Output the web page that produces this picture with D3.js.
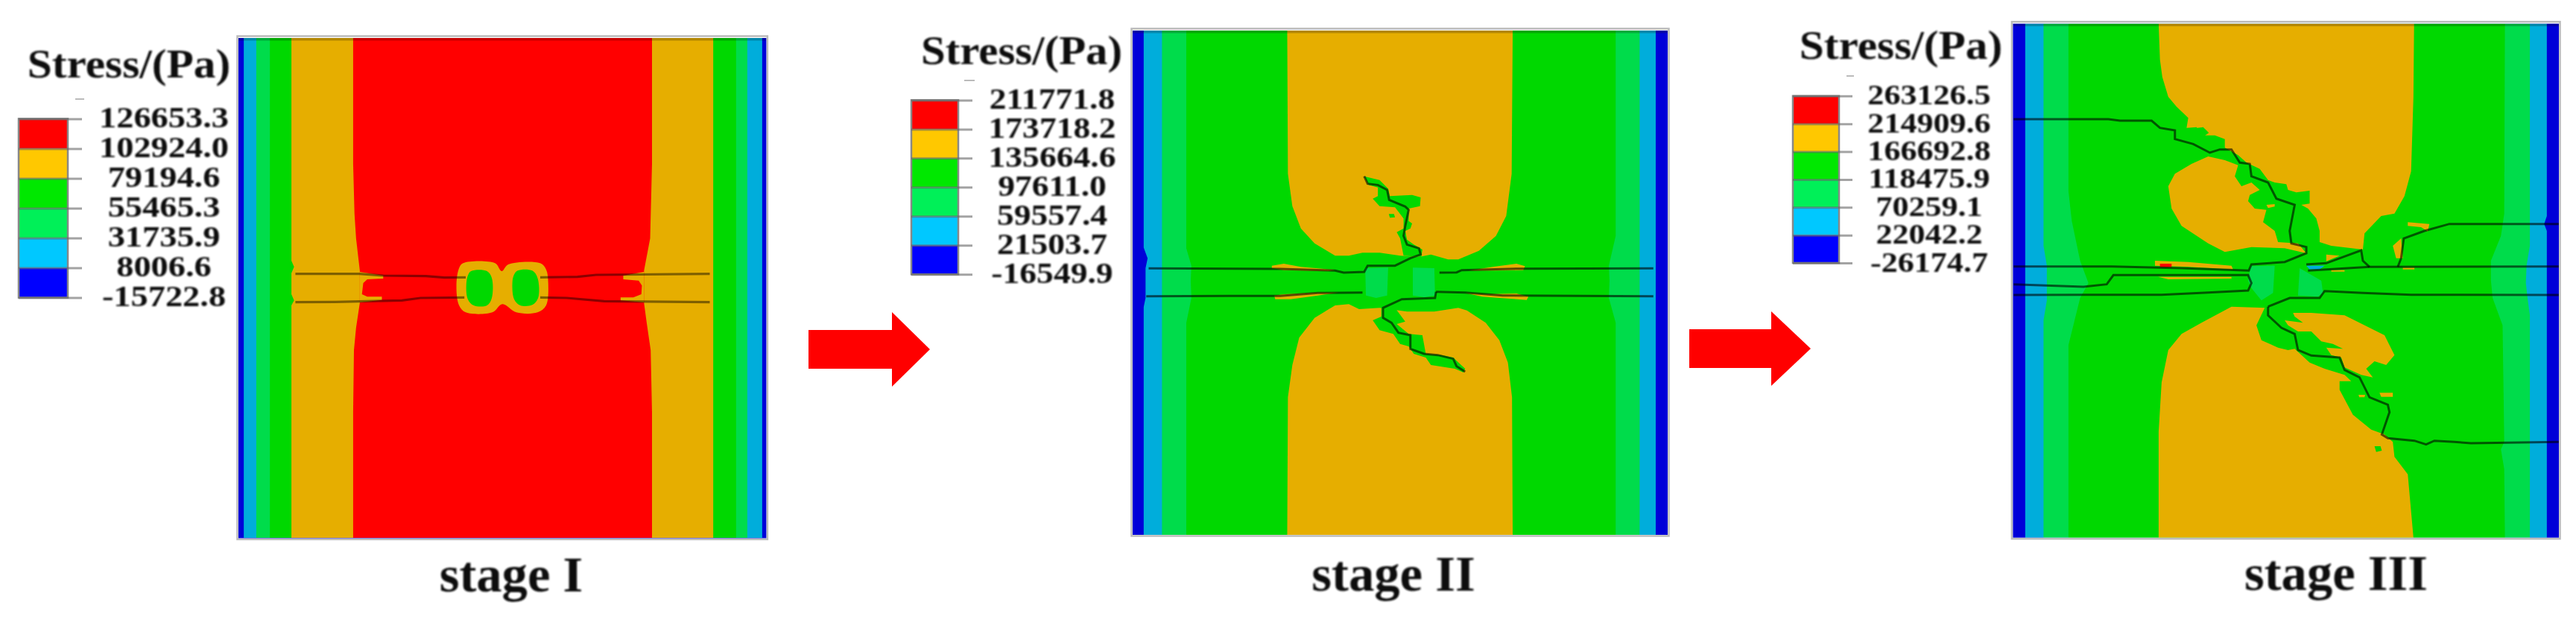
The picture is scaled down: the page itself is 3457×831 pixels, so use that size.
<!DOCTYPE html>
<html>
<head>
<meta charset="utf-8">
<title>Stress stages</title>
<script src="https://cdn.jsdelivr.net/npm/d3@7"></script>
<style>
html, body { margin:0; padding:0; background:#fff; }
svg { display:block; }
text { font-family:"Liberation Serif", serif; font-weight:bold; fill:#111; }
</style>
</head>
<body>
<div id="chart-area"></div>
<script>
// colours of the contour bands and of the legend bands, low to high
var bandColors = ["#0000d8", "#00addb", "#00dc4c", "#00d800", "#e6ae00", "#ff0000"];
var legendColors = ["#0000ff", "#00c8ff", "#00f058", "#00e800", "#ffc800", "#ff0000"];

// legend tick labels
var ticksI = ["-15722.8", "8006.6", "31735.9", "55465.3", "79194.6", "102924.0", "126653.3"];
var ticksII = ["-16549.9", "21503.7", "59557.4", "97611.0", "135664.6", "173718.2", "211771.8"];
var ticksIII = ["-26174.7", "22042.2", "70259.1", "118475.9", "166692.8", "214909.6", "263126.5"];

var stageNames = ["stage I", "stage II", "stage III"];

var s1Lightblue = [[-64,-807],[1884,-807],[1884,1206],[-64,1206]];
var s1Green2 = [[-17,-807],[1828,-807],[1828,1206],[-17,1206]];
var s1Green = [[34,-807],[1786,-807],[1786,1206],[34,1206]];
var s1Orange = [[115,-807],[115,90],[125,115],[115,140],[115,225],[125,250],[115,270],[115,1206],[1700,1206],[1700,-807]];
var s1Red = [[347,-807],[347,-300],[352,-100],[358,0],[372,130],[372,260],[358,360],[350,450],[347,700],[347,1206],
             [1470,1206],[1470,700],[1465,450],[1450,340],[1440,260],[1440,130],[1463,0],[1470,-300],[1470,-807]];
var s1SpurL = [[372,135],[460,150],[460,162],[400,165],[385,180],[380,225],[400,235],[455,235],[455,248],[372,258]];
var s1SpurR = [[1440,135],[1362,150],[1362,165],[1420,170],[1432,190],[1430,225],[1400,238],[1352,238],[1352,250],[1440,258]];
var s1Blob = [[760,100],[880,100],[905,132],[930,105],[1050,100],[1072,125],[1080,180],[1072,270],[1040,298],[960,298],
              [908,265],[870,298],[770,298],[745,270],[735,190],[745,120]];
var s1OvalL = [[790,132],[850,132],[868,160],[868,240],[850,270],[800,270],[778,245],[772,190],[778,150]];
var s1OvalR = [[965,130],[1020,130],[1040,160],[1042,240],[1020,268],[975,270],[952,245],[945,190],[950,150]];
var s1Cracks = [
  [[130,143],[370,143],[460,150],[620,152],[690,158],[770,157]],
  [[130,257],[280,256],[530,250],[600,240],[765,238]],
  [[1050,157],[1190,155],[1260,147],[1687,143]],
  [[1050,238],[1150,240],[1290,253],[1687,257]]
];

// ---- stage II contours, 0-1568 / 0-1020 grid
var s2Blue = [[10,-477],[10,395],[22,440],[16,480],[16,600],[10,640],[10,1554],[-22,1554],[-22,-477]];
var s2Lightblue = [[10,-477],[1507,-477],[1507,1554],[10,1554]];
var s2Green2 = [[64,-477],[1460,-477],[1460,1554],[64,1554]];
var s2Green = [[135,-477],[135,400],[150,470],[148,530],[150,600],[135,700],[135,1554],
                [1390,1554],[1390,700],[1370,600],[1372,530],[1370,470],[1390,350],[1390,-477]];
var s2OrangeTop = [[430,-477],[432,100],[445,230],[470,320],[510,380],[570,430],[610,430],[650,418],[700,418],[760,430],
                   [815,435],[850,425],[900,445],[930,445],[990,410],[1040,350],[1070,270],[1086,100],[1089,-477]];
var s2OrangeLow = [[430,1554],[432,1000],[445,870],[465,760],[510,680],[570,630],[610,625],[640,645],[700,640],[780,655],
                   [860,655],[930,640],[955,650],[1010,700],[1050,770],[1075,860],[1087,1000],[1089,1554]];
var s2CrackBlobTop = [[655,110],[700,125],[725,160],[730,190],[795,185],[820,195],[818,230],[785,240],[785,290],[795,300],
                      [790,320],[775,330],[780,365],[800,385],[825,405],[822,435],[770,430],[760,360],[750,335],[770,320],
                      [770,280],[745,235],[700,230],[680,200],[695,190],[695,155],[668,145]];
var s2CrackBlobLow = [[705,640],[745,640],[775,695],[750,705],[785,745],[825,750],[835,825],[880,830],[915,840],[950,885],
                      [945,900],[920,885],[850,870],[835,840],[800,825],[785,795],[760,785],[740,745],[700,730],[680,690],[705,675]];
var s2Dot = [[727,262],[742,262],[745,275],[730,277]];
var s2CentreL = [[658,480],[725,478],[722,590],[690,600],[660,590]];
var s2CentreR = [[797,478],[860,480],[862,590],[830,597],[797,590]];
var s2Slivers = [
  [[385,470],[420,462],[470,475],[570,487],[550,492],[420,488],[385,480]],
  [[392,590],[420,585],[520,578],[580,578],[520,590],[440,605],[395,605]],
  [[960,490],[1030,475],[1100,462],[1125,472],[1120,488],[1040,490]],
  [[950,580],[1010,585],[1100,582],[1135,595],[1130,608],[1050,600],[1000,595]]
];
var s2Cracks = [
  [[655,110],[665,140],[695,145],[722,165],[728,205],[775,232],[785,245],[775,310],[770,350],[780,385],[815,400],[820,425],
   [790,440],[745,470],[665,470],[655,495],[595,498],[570,490],[410,483],[25,481]],
  [[875,498],[925,497],[940,488],[1100,482],[1500,481]],
  [[18,593],[260,592],[410,592],[520,580],[650,578]],
  [[865,575],[950,578],[1060,590],[1500,593]],
  [[865,575],[862,600],[765,605],[710,640],[710,680],[735,700],[755,740],[790,750],[790,805],[830,825],[870,830],[915,845],[925,875],[950,897]]
];

// ---- stage III contours, upper grid 0-1568 / 0-900, lower grid the same size lower down
var s3Lightblue = [[40,-295],[1608,-295],[1608,480],[1600,512],[1608,540],[1608,1775],[40,1775]];
var s3Green2 = [[95,-295],[95,600],[105,680],[105,820],[95,900],[95,1775],
                [1557,1775],[1557,880],[1550,810],[1545,750],[1547,680],[1557,600],[1557,-295]];
var s3Green = [[170,-295],[170,380],[180,500],[205,660],[230,750],[205,810],[170,1000],[170,1775],
               [1482,1775],[1480,1500],[1470,1420],[1480,1390],[1475,920],[1445,810],[1440,740],[1440,660],[1470,560],[1480,470],[1482,-295]];
var s3OrangeTop = [[441,-295],[445,-150],[452,-80],[470,0],[495,40],[530,85],[525,125],[555,122],[575,155],[610,155],[640,170],
                   [640,205],[680,235],[705,265],[745,290],[770,335],[790,345],[825,352],[830,375],[855,385],[895,378],[895,430],
                   [870,435],[890,450],[915,490],[925,540],[925,585],[960,600],[1055,615],[1060,550],[1110,480],[1150,470],
                   [1180,400],[1200,300],[1207,0],[1209,-295]];
var s3LobeTop = [[590,240],[640,255],[680,275],[670,320],[690,360],[720,345],[745,375],[715,395],[710,420],[730,450],[765,455],
                 [755,505],[790,540],[800,585],[860,590],[885,630],[820,610],[720,605],[640,625],[590,590],[510,520],[480,450],[470,360],[490,310],[540,270]];
var s3IslandTop = [[557,125],[575,122],[592,145],[578,158],[560,145]];
var s3DotsTop = [
  [[765,435],[790,432],[790,442],[770,448]],
  [[1190,505],[1255,512],[1250,542],[1230,525],[1190,520]],
  [[1145,600],[1170,570],[1175,650],[1155,650]],
  [[430,660],[530,665],[660,680],[665,695],[530,685],[430,680]],
  [[440,725],[660,725],[660,732],[470,735]],
  [[945,635],[985,640],[945,662]],
  [[960,698],[1000,698],[1000,704],[960,704]],
  [[1175,688],[1210,688],[1210,695],[1175,695]]
];
var s3RedSpot = [[445,672],[480,672],[480,686],[445,686]];
var s3BlueSpot = [[885,680],[940,680],[925,695],[895,695]];
var s3CentreL = [[718,682],[790,680],[785,790],[750,820],[720,770],[710,740]];
var s3CentreR = [[865,690],[930,740],[935,790],[920,805],[860,800]];
var s3CracksTop = [
  [[5,90],[290,90],[325,96],[420,96],[445,125],[490,135],[490,170],[545,190],[595,225],[625,212],[660,212],[685,265],[715,270],
   [720,320],[770,345],[795,410],[850,435],[835,540],[840,590],[885,605],[885,630],[820,665],[720,675],[712,700],[620,695],[510,690],[300,683],[5,683]],
  [[5,755],[215,765],[285,755],[305,718],[710,718],[720,750],[710,780],[590,788],[450,797],[5,798]],
  [[890,700],[1075,685],[1644,683]],
  [[885,675],[945,670],[1050,618],[1055,660],[1075,685]],
  [[1160,685],[1170,650],[1178,570],[1240,540],[1315,512],[1644,512]],
  [[770,845],[835,810],[925,810],[940,782],[1055,790],[1200,797],[1644,798]]
];
// lower half, second grid
var s3OrangeLow = [[441,1025],[441,600],[450,400],[470,270],[510,205],[570,160],[660,95],[760,100],[735,170],[750,230],[800,260],
                   [830,270],[850,265],[895,320],[940,345],[1000,370],[1020,395],[985,395],[985,430],[1025,530],[1080,590],[1120,610],
                   [1145,640],[1150,700],[1190,770],[1207,1025]];
var s3LobeLow = [[845,120],[900,120],[1000,130],[1120,210],[1150,290],[1125,330],[1090,315],[1065,345],[1085,380],[1050,370],
                 [1000,340],[990,300],[960,290],[945,260],[995,265],[965,245],[930,235],[900,195],[860,195],[830,170],[820,150],[875,160],[850,135]];
var s3IslandLow = [[1090,657],[1108,657],[1112,675],[1095,680]];
var s3SpotsLow = [
  [[1105,442],[1145,442],[1145,458],[1110,458]],
  [[1042,450],[1062,450],[1060,460],[1044,460]]
];
var s3CrackLow = [[770,95],[770,130],[810,180],[850,205],[860,270],[900,292],[985,300],[1000,350],[1045,380],[1075,460],[1130,490],
                  [1135,520],[1112,610],[1130,625],[1210,635],[1245,650],[1270,635],[1330,640],[1380,645],[1644,640]];

// layout of the three panels in the page
var width = 3457, height = 831;
var stages = [
  { name:stageNames[0], ticks:ticksI, frame:[320,51,1028.4,722.5],
    x:d3.scaleLinear().domain([0,1568]).range([350,910]), y:d3.scaleLinear().domain([0,360]).range([320,440]),
    legend:{ x0:25, x1:91, tick:110, top:159.4, bottom:399.6, cx:220, sx:1.16, fs:40, stub:[101,113,133] },
    title:{ cx:173, y:104, fs:54, sx:1.1 }, caption:{ cx:686, y:794 } },
  { name:stageNames[1], ticks:ticksII, frame:[1520,41,2238,718],
    x:d3.scaleLinear().domain([0,1568]).range([1530,2250]), y:d3.scaleLinear().domain([0,1020]).range([200,540]),
    legend:{ x0:1223, x1:1286, tick:1305, top:134.4, bottom:368.3, cx:1412, sx:1.14, fs:40, stub:[1294,1308,108] },
    title:{ cx:1371, y:86, fs:54, sx:1.09 }, caption:{ cx:1870, y:793 } },
  { name:stageNames[2], ticks:ticksIII, frame:[2701.4,31.7,3434,721.8],
    x:d3.scaleLinear().domain([0,1568]).range([2700,3400]), y:d3.scaleLinear().domain([0,900]).range([130,430]),
    y2:d3.scaleLinear().domain([0,900]).range([380,680]),
    legend:{ x0:2406, x1:2468, tick:2486, top:128.8, bottom:353, cx:2589, sx:1.16, fs:38, stub:[2478,2488,102] },
    title:{ cx:2551, y:79, fs:54, sx:1.1 }, caption:{ cx:3135, y:792 } }
];

// arrows between the stages: x start, head base, tip, centre y
var arrows = [
  { x0:1085, x1:1197, x2:1248, cy:469 },
  { x0:2267, x1:2377, x2:2430, cy:468 }
];

// create canvas
var canvas = d3.select("#chart-area")
  .append("svg")
  .attr("width", width)
  .attr("height", height)
  .attr("viewBox", "0 0 " + width + " " + height);

var defs = canvas.append("defs");
defs.append("filter").attr("id", "soft").append("feGaussianBlur").attr("stdDeviation", 0.7);
defs.append("filter").attr("id", "softText").append("feGaussianBlur").attr("stdDeviation", 0.8);

function outline(pts, xs, ys, smooth) {
  return d3.line()
    .x(d => xs(d[0]))
    .y(d => ys(d[1]))
    .curve(smooth ? d3.curveCatmullRomClosed : d3.curveLinearClosed)(pts);
}

function crackLine(pts, xs, ys) {
  return d3.line().x(d => xs(d[0])).y(d => ys(d[1]))(pts);
}

// one panel: a stack of contour layers, painted from low stress up to high stress
function drawPanel(stage, i, layers, cracks) {
  var f = stage.frame;
  defs.append("clipPath").attr("id", "clip" + i)
    .append("rect")
    .attr("x", f[0]).attr("y", f[1])
    .attr("width", f[2] - f[0]).attr("height", f[3] - f[1]);

  // thin grey rim around the plate
  canvas.append("rect")
    .attr("x", f[0] - 1.5).attr("y", f[1] - 2.5)
    .attr("width", f[2] - f[0] + 3).attr("height", f[3] - f[1] + 4)
    .attr("fill", "none")
    .attr("stroke", "#bbb")
    .attr("stroke-width", 2.5);

  var g = canvas.append("g").attr("clip-path", "url(#clip" + i + ")");
  var inner = g.append("g").attr("filter", "url(#soft)");

  inner.append("rect")
    .attr("x", f[0] - 5).attr("y", f[1] - 5)
    .attr("width", f[2] - f[0] + 10).attr("height", f[3] - f[1] + 10)
    .attr("fill", bandColors[0]);

  inner.selectAll("path.band")
    .data(layers)
    .enter().append("path")
    .attr("class", "band")
    .attr("fill", d => bandColors[d.band])
    .attr("d", d => outline(d.pts, stage.x, d.low ? stage.y2 : stage.y, d.smooth));

  inner.selectAll("path.crack")
    .data(cracks)
    .enter().append("path")
    .attr("class", "crack")
    .attr("fill", "none")
    .attr("stroke", "#000")
    .attr("stroke-opacity", d => d.alpha || 0.6)
    .attr("stroke-width", d => d.w || 3)
    .attr("d", d => crackLine(d.pts, stage.x, d.low ? stage.y2 : stage.y));

  // darker strip along the top edge
  inner.append("rect")
    .attr("x", f[0]).attr("y", f[1])
    .attr("width", f[2] - f[0]).attr("height", 3.5)
    .attr("fill", "#000").attr("fill-opacity", 0.22);
}

// legend: bands between the ticks plus the tick labels from a d3 axis
function drawLegend(stage) {
  var l = stage.legend;
  var values = stage.ticks.map(d => +d);
  var yScale = d3.scaleLinear()
    .domain([values[0], values[values.length - 1]])
    .range([l.bottom, l.top]);
  var color = d3.scaleThreshold().domain(values.slice(1, -1)).range(legendColors);

  var g = canvas.append("g").attr("class", "legend");

  g.selectAll("rect")
    .data(d3.pairs(values))
    .enter().append("rect")
    .attr("x", l.x0)
    .attr("width", l.x1 - l.x0)
    .attr("y", d => yScale(d[1]))
    .attr("height", d => yScale(d[0]) - yScale(d[1]))
    .attr("fill", d => color((d[0] + d[1]) / 2));

  g.append("rect")
    .attr("x", l.x0).attr("y", l.top)
    .attr("width", l.x1 - l.x0).attr("height", l.bottom - l.top)
    .attr("fill", "none").attr("stroke", "#888").attr("stroke-width", 2.5);

  var axis = d3.axisRight(yScale)
    .tickValues(values)
    .tickSize(l.tick - l.x0)
    .tickFormat((d, i) => stage.ticks[i]);

  var ag = g.append("g")
    .attr("transform", "translate(" + l.x0 + ",0)")
    .call(axis);

  ag.select(".domain").remove();
  ag.selectAll("line")
    .attr("stroke", "#666")
    .attr("stroke-opacity", 0.6)
    .attr("stroke-width", 3);
  ag.selectAll("text")
    .attr("x", 0).attr("dy", null)
    .attr("text-anchor", "middle")
    .attr("font-size", l.fs)
    .attr("font-family", "Liberation Serif, serif")
    .attr("transform", "translate(" + (l.cx - l.x0) + ",11) scale(" + l.sx + ",1)")
    .attr("fill", "#111")
    .attr("filter", "url(#softText)");

  // faint left-over dash above the bar
  g.append("line")
    .attr("x1", l.stub[0]).attr("x2", l.stub[1])
    .attr("y1", l.stub[2]).attr("y2", l.stub[2])
    .attr("stroke", "#bbb").attr("stroke-width", 2);

  canvas.append("text")
    .attr("text-anchor", "middle")
    .attr("font-size", stage.title.fs)
    .attr("transform", "translate(" + stage.title.cx + "," + stage.title.y + ") scale(" + stage.title.sx + ",1)")
    .attr("filter", "url(#softText)")
    .text("Stress/(Pa)");

  canvas.append("text")
    .attr("text-anchor", "middle")
    .attr("font-size", 68)
    .attr("transform", "translate(" + stage.caption.cx + "," + stage.caption.y + ") scale(1.01,1)")
    .attr("filter", "url(#softText)")
    .text(stage.name);
}

// stacks of layers per stage, band index refers to bandColors
var layersI = [
  { pts:s1Lightblue, band:1 }, { pts:s1Green2, band:2 }, { pts:s1Green, band:3 }, { pts:s1Orange, band:4 }, { pts:s1Red, band:5 },
  { pts:s1SpurL, band:4 }, { pts:s1SpurR, band:4 }, { pts:s1Blob, band:4, smooth:true },
  { pts:s1OvalL, band:3, smooth:true }, { pts:s1OvalR, band:3, smooth:true }
];
var layersII = [
  { pts:s2Lightblue, band:1 }, { pts:s2Blue, band:0 }, { pts:s2Green2, band:2 }, { pts:s2Green, band:3 },
  { pts:s2OrangeTop, band:4 }, { pts:s2OrangeLow, band:4 },
  { pts:s2CrackBlobTop, band:3 }, { pts:s2CrackBlobLow, band:3 }, { pts:s2Dot, band:3 },
  { pts:s2CentreL, band:2 }, { pts:s2CentreR, band:2 }
].concat(s2Slivers.map(d => ({ pts:d, band:4 })));
var layersIII = [
  { pts:s3Lightblue, band:1 }, { pts:s3Green2, band:2 }, { pts:s3Green, band:3 },
  { pts:s3OrangeTop, band:4 }, { pts:s3LobeTop, band:4 }, { pts:s3IslandTop, band:3 },
  { pts:s3OrangeLow, band:4, low:true }, { pts:s3LobeLow, band:4, low:true }, { pts:s3IslandLow, band:3, low:true }
].concat(s3DotsTop.map(d => ({ pts:d, band:4 })))
 .concat(s3SpotsLow.map(d => ({ pts:d, band:4, low:true })))
 .concat([
  { pts:s3RedSpot, band:5 }, { pts:s3BlueSpot, band:1 },
  { pts:s3CentreL, band:2 }, { pts:s3CentreR, band:2 }
]);

drawPanel(stages[0], 0, layersI, s1Cracks.map(d => ({ pts:d, alpha:0.45, w:3.2 })));
drawPanel(stages[1], 1, layersII, s2Cracks.map(d => ({ pts:d })));
drawPanel(stages[2], 2, layersIII, s3CracksTop.map(d => ({ pts:d })).concat([{ pts:s3CrackLow, low:true }]));

stages.forEach(drawLegend);

// red arrows
canvas.selectAll("path.arrow")
  .data(arrows)
  .enter().append("path")
  .attr("class", "arrow")
  .attr("fill", "#ff0000")
  .attr("d", d => d3.line()([
    [d.x0, d.cy - 26], [d.x1, d.cy - 26], [d.x1, d.cy - 50], [d.x2, d.cy],
    [d.x1, d.cy + 50], [d.x1, d.cy + 26], [d.x0, d.cy + 26]
  ]) + "Z");
</script>
</body>
</html>
